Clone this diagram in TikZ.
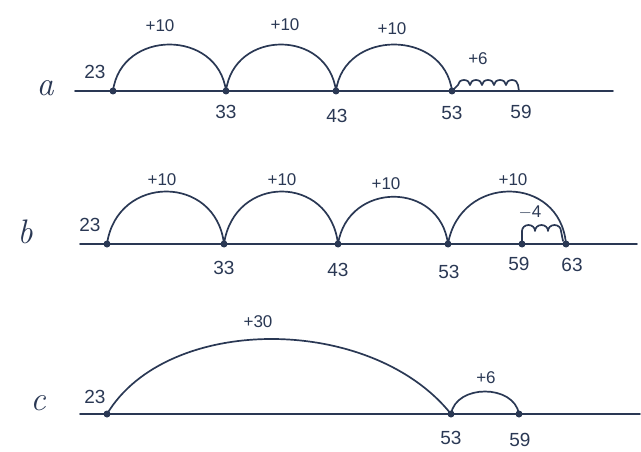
\documentclass[tikz,border=0pt]{standalone}
\usepackage{fontspec}
\newfontfamily\hand{Liberation Sans}
\definecolor{ink}{RGB}{42,56,84}
\begin{document}
\begin{tikzpicture}[x=1pt,y=-1pt,
  nline/.style={draw=ink, line width=1.7pt, line cap=round},
  jump/.style={draw=ink, line width=1.7pt, line cap=round, line join=round},
  pt/.style={circle, fill=ink, inner sep=0pt, minimum size=7pt},
  num/.style={text=ink, font=\hand\fontsize{19}{21}\selectfont, inner sep=1pt},
  lab/.style={text=ink, font=\hand\fontsize{17}{19}\selectfont, inner sep=1pt},
  rowlab/.style={text=ink, font=\fontsize{34}{36}\selectfont\itshape, inner sep=1pt}]
\useasboundingbox (0,0) rectangle (641,452);

% ---------- row a ----------
\node[rowlab] (ra) at (45,88) {a};
\coordinate (aL) at (75,91);
\coordinate (aR) at (613,91);
\draw[nline] (aL) -- (aR);
\node[pt] (a23) at (113,91) {};
\node[pt] (a33) at (226,91) {};
\node[pt] (a43) at (336,91) {};
\node[pt] (a53) at (452,91) {};
\coordinate (a59) at (519,91);
\draw[jump] (a23.center) .. controls +(8,-62) and +(-8,-62) .. (a33.center);
\draw[jump] (a33.center) .. controls +(8,-62) and +(-8,-62) .. (a43.center);
\draw[jump] (a43.center) .. controls +(8,-62) and +(-8,-62) .. (a53.center);
\draw[jump] (a53.center) -- (458,85)
  arc[start angle=180, end angle=360, x radius=6, y radius=5]
  arc[start angle=180, end angle=360, x radius=6, y radius=5]
  arc[start angle=180, end angle=360, x radius=6, y radius=5]
  arc[start angle=180, end angle=360, x radius=6, y radius=5]
  arc[start angle=180, end angle=360, x radius=6, y radius=5]
  -- (a59);
\node[num] (la23) at (95,72) {23};
\node[num] (la33) at (226,112) {33};
\node[num] (la43) at (337,116) {43};
\node[num] (la53) at (452,113) {53};
\node[num] (la59) at (521,112) {59};
\node[lab] (ja1) at (160,26) {+10};
\node[lab] (ja2) at (285,25) {+10};
\node[lab] (ja3) at (392,29) {+10};
\node[lab] (ja4) at (478,59) {+6};

% ---------- row b ----------
\node[rowlab] (rb) at (25,232) {b};
\coordinate (bL) at (80,244);
\coordinate (bR) at (637,244);
\draw[nline] (bL) -- (bR);
\node[pt] (b23) at (107,244) {};
\node[pt] (b33) at (224,244) {};
\node[pt] (b43) at (338,244) {};
\node[pt] (b53) at (448,244) {};
\node[pt] (b59) at (522,244) {};
\node[pt] (b63) at (566,244) {};
\draw[jump] (b23.center) .. controls +(10,-70) and +(-8,-70) .. (b33.center);
\draw[jump] (b33.center) .. controls +(10,-70) and +(-8,-70) .. (b43.center);
\draw[jump] (b43.center) .. controls +(10,-63) and +(-8,-63) .. (b53.center);
\draw[jump] (b53.center) .. controls +(12,-70) and +(-6,-70) .. (b63.center);
\draw[jump] (b59.center) -- (522,231)
  arc[start angle=180, end angle=360, x radius=6.5, y radius=6]
  arc[start angle=180, end angle=360, x radius=6.5, y radius=6]
  arc[start angle=180, end angle=360, x radius=6.5, y radius=6]
  -- (563,241);
\node[num] (lb23) at (90,225) {23};
\node[num] (lb33) at (224,268) {33};
\node[num] (lb43) at (338,270) {43};
\node[num] (lb53) at (449,272) {53};
\node[num] (lb59) at (519,264) {59};
\node[num] (lb63) at (572,265) {63};
\node[lab] (jb1) at (162,180) {+10};
\node[lab] (jb2) at (282,180) {+10};
\node[lab] (jb3) at (386,184) {+10};
\node[lab] (jb4) at (513,180) {+10};
\node[lab] (jb5) at (530,212) {$-$4};

% ---------- row c ----------
\node[rowlab] (rc) at (38,403) {c};
\coordinate (cL) at (80,414);
\coordinate (cR) at (640,414);
\draw[nline] (cL) -- (cR);
\node[pt] (c23) at (107,414) {};
\node[pt] (c53) at (451,414) {};
\node[pt] (c59) at (519,414) {};
\draw[jump] (c23.center) .. controls +(60,-100) and +(-80,-100) .. (c53.center);
\draw[jump] (c53.center) .. controls +(5,-30) and +(-5,-30) .. (c59.center);
\node[num] (lc23) at (95,397) {23};
\node[num] (lc53) at (451,438) {53};
\node[num] (lc59) at (520,440) {59};
\node[lab] (jc1) at (258,322) {+30};
\node[lab] (jc2) at (486,378) {+6};
\end{tikzpicture}
\end{document}
